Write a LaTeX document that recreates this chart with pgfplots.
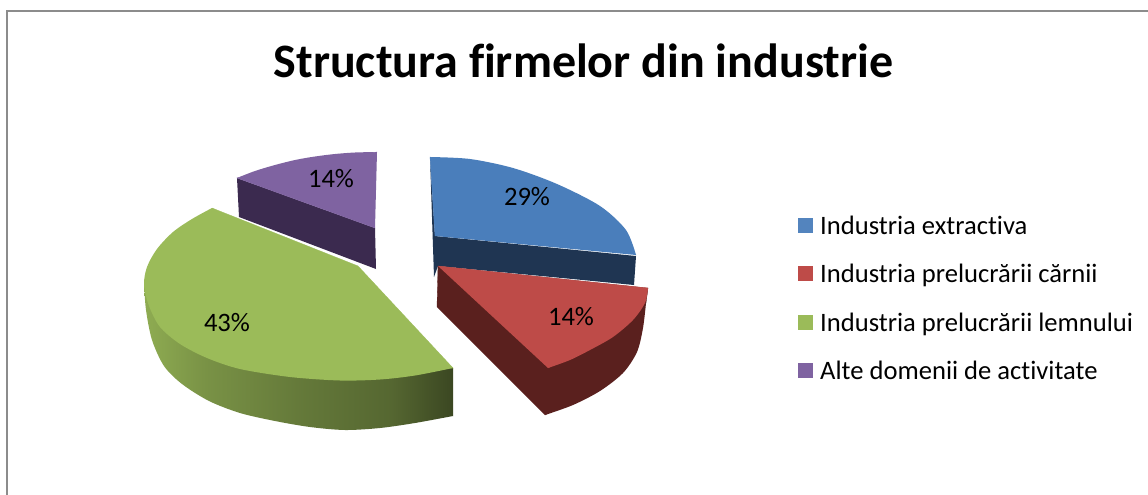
\documentclass[border=0pt]{standalone}
\usepackage{pgfplots}
\pgfplotsset{compat=1.18}
\usepackage{fontspec}
\setmainfont[Ligatures=NoCommon]{Carlito}
\definecolor{cblue}{HTML}{4A7EBB}
\definecolor{cblued}{HTML}{1F3552}
\definecolor{cred}{HTML}{BE4B48}
\definecolor{credd}{HTML}{5A201E}
\definecolor{cgreen}{HTML}{9BBB59}
\definecolor{cpurple}{HTML}{7F63A1}
\definecolor{cpurpled}{HTML}{3B2A4F}
\definecolor{framec}{HTML}{8C8C8C}
\pgfdeclarehorizontalshading{greenband}{100bp}{
 color(0bp)=(cgreen!92!black);
 color(25bp)=(cgreen!92!black);
 color(35bp)=(cgreen!78!black);
 color(50bp)=(cgreen!65!black);
 color(65bp)=(cgreen!55!black);
 color(75bp)=(cgreen!38!black);
 color(100bp)=(cgreen!38!black)}
\begin{document}
\begin{tikzpicture}
\begin{axis}[
  scale only axis, width=1148pt, height=495pt,
  xmin=0, xmax=1148, ymin=0, ymax=495, y dir=reverse,
  axis lines=none, clip=true]
% white page
\addplot[fill=white,draw=none] coordinates {(0,0)(1148,0)(1148,495)(0,495)};
% frame
\addplot[draw=framec,line width=1.2pt] coordinates {(7,495)(7,11)(1148,11)};
% purple side
\addplot[fill=cpurpled,draw=none] coordinates {(237,178)(239,217)(376,269)(375,228)};
% purple top
\addplot[fill=cpurple,draw=none,smooth] coordinates {(237,178)(255,171)(275,165)(295,160)(315,156.5)(335,154)(355,152.5)(377,152)};
\addplot[fill=cpurple,draw=cpurple,line width=0.3pt] coordinates {(375,228)(237,178)(307,161)(377,152)};
% blue side
\addplot[fill=cblued,draw=none] coordinates {(430,157)(434,277)(438,266)(634,285)(636,256)(435,236)};
% blue top
\addplot[fill=cblue,draw=none,smooth] coordinates {(430,157)(470,159)(513,168)(557,184)(600,206)(626,230)(636,255)};
\addplot[fill=cblue,draw=cblue,line width=0.3pt] coordinates {(435,236)(430,157)(557,195)(636,255)};
% red side
\addplot[fill=credd,draw=none,smooth] coordinates {(545,415)(573,405)(600,391)(623,373)(637,352)(643,328)(646,303)};
\addplot[fill=credd,draw=credd,line width=0.3pt] coordinates {(438,266)(437,307)(545,415)(600,385)(646,303)(648,288)};
% red top
\addplot[fill=cred,draw=none,smooth] coordinates {(648,288)(645,303)(633,320)(613,337)(590,350)(570,360)(548,368)};
\addplot[fill=cred,draw=cred,line width=0.3pt] coordinates {(438,266)(648,288)(610,333)(548,368)};
% green side
\addplot[shading=greenband,shade,draw=none] coordinates {(144,283)(207,395)(453,416)(453,368)};
\addplot[shading=greenband,shade,draw=none,smooth] coordinates {(144,283)(146,310)(152,340)(164,366)(182,384)(209,401)(240,413)(275,421)(310,427)(345,430)(380,428)(415,423)(453,416)};
% green top
\addplot[fill=cgreen,draw=none,smooth] coordinates {(453,368)(415,375.5)(380,379.5)(340,380.5)(290,377)(240,369)(207,358)(180,344)(160,327)(149,306)(144,285)(147,267)(157,249)(173,232)(192,219)(212,208)};
\addplot[fill=cgreen,draw=cgreen,line width=0.3pt] coordinates {(212,208)(358,266)(453,368)(290,372)(152,303)};
% labels
\node[font=\fontsize{26.6}{27}\selectfont] at (axis cs:331,179) {14\%};
\node[font=\fontsize{26.6}{27}\selectfont] at (axis cs:527,197) {29\%};
\node[font=\fontsize{26.6}{27}\selectfont] at (axis cs:571,317) {14\%};
\node[font=\fontsize{26.6}{27}\selectfont] at (axis cs:227,323) {43\%};
% title
\node[font=\fontsize{48}{48}\selectfont\bfseries] at (axis cs:583.5,61) {Structura firmelor din industrie};
% legend
\addplot[fill=cblue!95!white,draw=none] coordinates {(798,218)(813,218)(813,233)(798,233)};
\addplot[fill=cred,draw=none] coordinates {(798,266)(813,266)(813,281)(798,281)};
\addplot[fill=cgreen,draw=none] coordinates {(798,315)(813,315)(813,330)(798,330)};
\addplot[fill=cpurple,draw=none] coordinates {(798,363)(813,363)(813,378)(798,378)};
\tikzset{lg/.style={anchor=base west,inner sep=0pt,font=\fontsize{26.6}{27}\selectfont}}
\node[lg] at (axis cs:820,234) {Industria extractiva};
\node[lg] at (axis cs:820,282) {Industria prelucrării cărnii};
\node[lg] at (axis cs:820,331) {Industria prelucrării lemnului};
\node[lg] at (axis cs:820,379) {Alte domenii de activitate};
\end{axis}
\end{tikzpicture}
\end{document}
